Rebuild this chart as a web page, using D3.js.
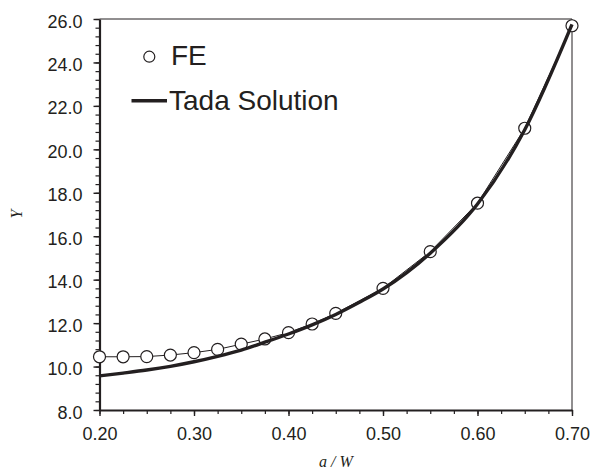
<!DOCTYPE html>
<html><head><meta charset="utf-8">
<script src="https://cdn.jsdelivr.net/npm/d3@7/dist/d3.min.js"></script>
<style>body{margin:0;background:#fff}svg{display:block}</style>
</head><body><svg id="c" width="605" height="470"></svg>
<script>
const feX = [0.20,0.225,0.25,0.275,0.30,0.325,0.35,0.375,0.40,0.425,0.45,0.50,0.55,0.60,0.65,0.70];
const feY = [10.45,10.45,10.46,10.53,10.64,10.79,11.03,11.27,11.56,11.96,12.45,13.60,15.29,17.52,20.97,25.69];
const tadaX = [0.20,0.225,0.25,0.275,0.30,0.325,0.35,0.375,0.40,0.425,0.45,0.475,0.50,0.55,0.60,0.65,0.70];
const tadaY = [9.57,9.70,9.84,10.01,10.22,10.47,10.76,11.12,11.50,11.92,12.40,12.96,13.57,15.22,17.48,20.90,25.75];
const xTicks = [0.20,0.30,0.40,0.50,0.60,0.70];
const yTicks = [8,10,12,14,16,18,20,22,24,26];
const legendLabels = ["FE","Tada Solution"];

const ink = "#231f20";
const sans = "'Liberation Sans', Arial, Helvetica, sans-serif";
const serif = "'Liberation Serif', 'Times New Roman', serif";
const svg = d3.select("#c");
const L = 99.5, R = 572, T = 19, B = 410;
const x = d3.scaleLinear().domain([0.2,0.7]).range([L,R]);
const y = d3.scaleLinear().domain([8,26]).range([B,T]);

// frame top/right
svg.append("line").attr("x1",L).attr("x2",R).attr("y1",T).attr("y2",T).attr("stroke",ink).attr("stroke-width",1);
svg.append("line").attr("x1",R).attr("x2",R).attr("y1",T).attr("y2",B).attr("stroke",ink).attr("stroke-width",1);

// minor ticks
const xMinor = d3.range(0,21).map(i=>0.2+i*0.025);
const yMinor = d3.range(0,46).map(i=>8+i*0.4);
const gx = svg.append("g").attr("transform",`translate(0,${B})`)
  .call(d3.axisBottom(x).tickValues(xMinor).tickSize(4).tickFormat(""));
const gy = svg.append("g").attr("transform",`translate(${L},0)`)
  .call(d3.axisLeft(y).tickValues(yMinor).tickSize(4).tickFormat(""));
[gx,gy].forEach(g=>{g.select(".domain").remove(); g.selectAll("line").attr("stroke",ink).attr("stroke-width",1.2);});

const ax = svg.append("g").attr("transform",`translate(0,${B})`)
  .call(d3.axisBottom(x).tickValues(xTicks).tickSize(6).tickSizeOuter(0).tickPadding(11).tickFormat(d3.format(".2f")));
const ay = svg.append("g").attr("transform",`translate(${L},0)`)
  .call(d3.axisLeft(y).tickValues(yTicks).tickSize(6).tickSizeOuter(0).tickPadding(11).tickFormat(d3.format(".1f")));
[ax,ay].forEach(g=>{
  g.select(".domain").attr("stroke",ink).attr("stroke-width",2.2);
  g.selectAll(".tick line").attr("stroke",ink).attr("stroke-width",1.4);
  g.selectAll("text").attr("fill",ink).style("font-family",sans).style("font-size","18px");
});
ay.selectAll("text").attr("dy","0.45em");

// FE line + circles
const fe = feX.map((d,i)=>[d,feY[i]]);
svg.append("path").datum(fe).attr("fill","none").attr("stroke",ink).attr("stroke-width",1)
  .attr("d",d3.line().x(d=>x(d[0])).y(d=>y(d[1])));
svg.selectAll("circle.fe").data(fe).join("circle").attr("class","fe")
  .attr("cx",d=>x(d[0])).attr("cy",d=>y(d[1])).attr("r",6)
  .attr("fill","#fff").attr("stroke",ink).attr("stroke-width",1.2);

// Tada line
const tada = tadaX.map((d,i)=>[d,tadaY[i]]);
svg.append("path").datum(tada).attr("fill","none").attr("stroke",ink).attr("stroke-width",3.4)
  .attr("d",d3.line().curve(d3.curveMonotoneX).x(d=>x(d[0])).y(d=>y(d[1])));

// legend
svg.append("circle").attr("cx",149.3).attr("cy",56.7).attr("r",5.5).attr("fill","#fff").attr("stroke",ink).attr("stroke-width",1.2);
svg.append("text").attr("x",171).attr("y",65).text(legendLabels[0])
  .attr("fill",ink).style("font-family",sans).style("font-size","28px");
svg.append("line").attr("x1",131.5).attr("x2",167).attr("y1",100.7).attr("y2",100.7).attr("stroke",ink).attr("stroke-width",3.5);
svg.append("text").attr("x",169).attr("y",110).text(legendLabels[1])
  .attr("fill",ink).style("font-family",sans).style("font-size","28px");

// axis titles
svg.append("text").attr("x",336).attr("y",467).attr("text-anchor","middle")
  .attr("fill",ink).style("font-family",serif).style("font-size","16px").style("font-style","italic")
  .text("a / W");
svg.append("text").attr("transform","translate(22,214) rotate(-90)").attr("text-anchor","middle")
  .attr("fill",ink).style("font-family",serif).style("font-size","16px").style("font-style","italic")
  .text("Y");
</script></body></html>
